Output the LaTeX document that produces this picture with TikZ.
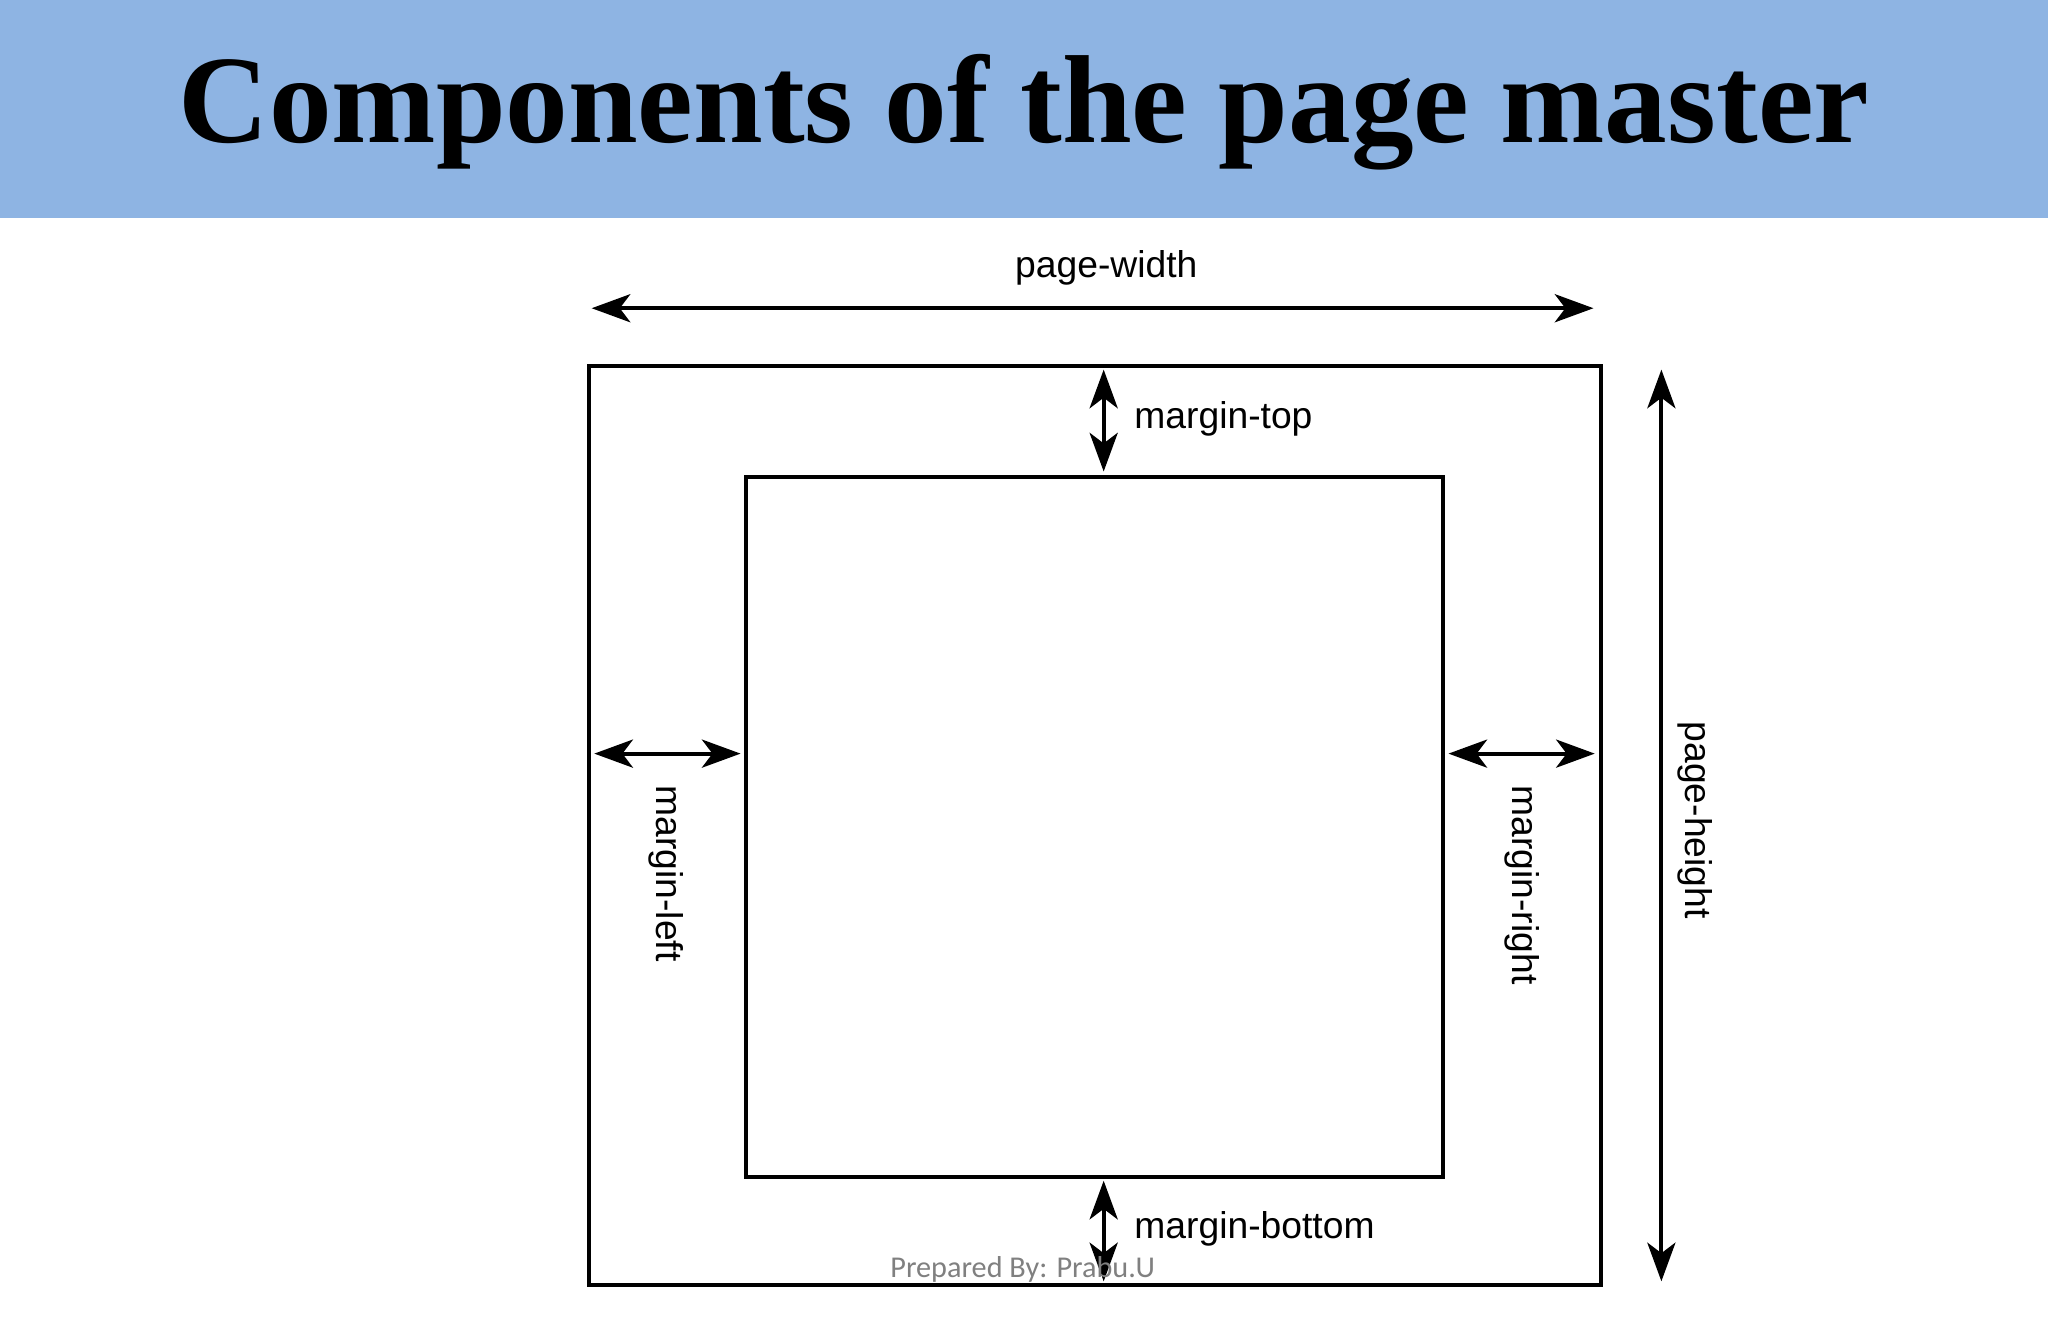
\documentclass[tikz,border=0pt]{standalone}
\usepackage{fontspec}
\setmainfont{Liberation Serif}
\newfontfamily\lab{Liberation Sans}
\newfontfamily\foot{Carlito}
\usetikzlibrary{arrows.meta}
\definecolor{banner}{HTML}{8EB4E3}
\tikzset{
 frame/.style={line width=1.2pt},
 dim/.style={line width=1.1pt,{Stealth[length=11pt,width=8pt,inset=3pt]}-{Stealth[length=11pt,width=8pt,inset=3pt]}},
 lbl/.style={font=\lab\fontsize{10.6pt}{12pt}\selectfont,inner sep=0pt}
}
\begin{document}
\begin{tikzpicture}[x=0.01306cm,y=-0.01306cm]
\useasboundingbox (0,0) rectangle (1568,1019);
\fill[white] (0,0) rectangle (1568,1019);
\fill[banner] (0,0) rectangle (1568,167);
\node[inner sep=0pt] (title) at (784,86) {\resizebox{481pt}{!}{\bfseries Components of the page master}};
\coordinate (o1) at (451,280); \coordinate (o2) at (1226,984);
\coordinate (i1) at (571,365); \coordinate (i2) at (1105,901);
\draw[frame] (o1) rectangle (o2);
\draw[frame] (i1) rectangle (i2);
\coordinate (pwl) at (453,236); \coordinate (pwr) at (1220,236);
\draw[dim] (pwl) -- (pwr);
\node[lbl] (pw) at (847,205) {page-width};
\coordinate (mt1) at (845,283); \coordinate (mt2) at (845,361);
\draw[dim] (mt1) -- (mt2);
\node[lbl,anchor=west] (mt) at (868,321) {margin-top};
\coordinate (mb1) at (845,904); \coordinate (mb2) at (845,981);
\draw[dim] (mb1) -- (mb2);
\node[lbl,anchor=west] (mb) at (868,941) {margin-bottom};
\coordinate (ml1) at (455,577); \coordinate (ml2) at (567,577);
\draw[dim] (ml1) -- (ml2);
\node[lbl,rotate=-90,anchor=west] (ml) at (510,601) {margin-left};
\coordinate (mr1) at (1109,577); \coordinate (mr2) at (1221,577);
\draw[dim] (mr1) -- (mr2);
\node[lbl,rotate=-90,anchor=west] (mr) at (1165,601) {margin-right};
\coordinate (ph1) at (1272,283); \coordinate (ph2) at (1272,981);
\draw[dim] (ph1) -- (ph2);
\node[lbl,rotate=-90] (ph) at (1298,628) {page-height};
\node[font=\foot\fontsize{8.6pt}{9pt}\selectfont,text=gray,inner sep=0pt] (ft) at (783,972) {Prepared By: Prabu.U};
\end{tikzpicture}
\end{document}
